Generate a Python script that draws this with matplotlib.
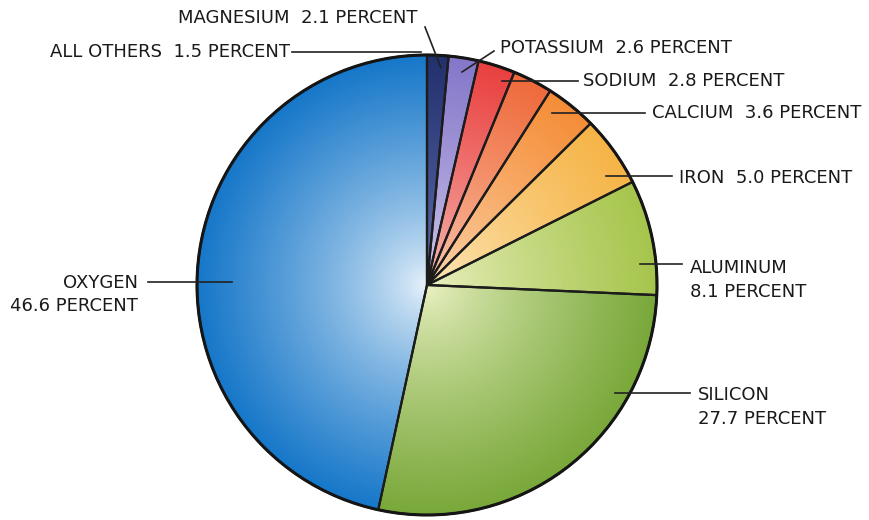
import numpy as np
import matplotlib
matplotlib.use("Agg")
import matplotlib.pyplot as plt
from matplotlib.colors import to_rgb

W, H = 869, 520

elements = ["ALL OTHERS", "MAGNESIUM", "POTASSIUM", "SODIUM", "CALCIUM",
            "IRON", "ALUMINUM", "SILICON", "OXYGEN"]
percent = [1.5, 2.1, 2.6, 2.8, 3.6, 5.0, 8.1, 27.7, 46.6]
edge_colors = ["#23306e", "#8577c9", "#e9403f", "#ef6a3c", "#f58d37",
               "#f6b447", "#a6c54c", "#79a83a", "#1677c9"]
center_colors = ["#6b78b8", "#d6d0f0", "#f8c8c0", "#fbd0b8", "#fcdcb8",
                 "#fdeac0", "#eef3c8", "#eef4c8", "#eef6fc"]

# pie geometry in pixel units (y measured from the top)
cx, cy, R = 427, 285, 230

fig = plt.figure(figsize=(W / 100, H / 100), dpi=100)
ax = fig.add_axes([0, 0, 1, 1])


def Y(py):
    return H - py


wedges, _ = ax.pie(percent, startangle=90, counterclock=False,
                   center=(cx, Y(cy)), radius=R, colors=edge_colors,
                   wedgeprops=dict(linewidth=0))

# radial shading: pale towards the middle, full colour at the rim
n = 400
xs = np.linspace(-1, 1, n)
gx, gy = np.meshgrid(xs, xs)
rr = np.clip(np.hypot(gx, gy), 0, 1)
t = (rr ** 0.75)[..., None]
for w, c0, c1 in zip(wedges, center_colors, edge_colors):
    a = np.array(to_rgb(c0))
    b = np.array(to_rgb(c1))
    img = a * (1 - t) + b * t
    im = ax.imshow(img, extent=[cx - R, cx + R, Y(cy) - R, Y(cy) + R],
                   origin="lower", interpolation="bilinear", zorder=1.5)
    im.set_clip_path(w)

# outlines on top of the shading
outline, _ = ax.pie(percent, startangle=90, counterclock=False,
                    center=(cx, Y(cy)), radius=R,
                    wedgeprops=dict(facecolor="none", edgecolor="#1c1c1c",
                                    linewidth=1.6))
for w in outline:
    w.set_zorder(3)
rim = plt.Circle((cx, Y(cy)), R, fill=False, edgecolor="#151515",
                 linewidth=2.2, zorder=3.2)
ax.add_patch(rim)

txt = dict(fontsize=13, color="#1a1a1a", fontfamily="DejaVu Sans",
           va="center")
lk = dict(color="#222222", linewidth=1.2, zorder=4)


def label(i):
    return f"{elements[i]}  {percent[i]:.1f} PERCENT"


# all others
ax.text(290, Y(52), label(0), ha="right", **txt)
ax.plot([292, 421], [Y(52), Y(52)], **lk)
# magnesium
ax.text(178, Y(18), label(1), ha="left", **txt)
ax.plot([425, 441], [Y(27), Y(68)], **lk)
# potassium
ax.text(500, Y(48), label(2), ha="left", **txt)
ax.plot([494, 462], [Y(51), Y(72)], **lk)
# sodium
ax.text(583, Y(81), label(3), ha="left", **txt)
ax.plot([578, 502], [Y(81), Y(81)], **lk)
# calcium
ax.text(652, Y(113), label(4), ha="left", **txt)
ax.plot([645, 552], [Y(113), Y(113)], **lk)
# iron
ax.text(679, Y(178), label(5), ha="left", **txt)
ax.plot([672, 606], [Y(176), Y(176)], **lk)
# aluminum
ax.text(690, Y(268), elements[6], ha="left", **txt)
ax.text(690, Y(292), f"{percent[6]:.1f} PERCENT", ha="left", **txt)
ax.plot([682, 640], [Y(264), Y(264)], **lk)
# silicon
ax.text(698, Y(395), elements[7], ha="left", **txt)
ax.text(698, Y(419), f"{percent[7]:.1f} PERCENT", ha="left", **txt)
ax.plot([690, 615], [Y(393), Y(393)], **lk)
# oxygen
ax.text(138, Y(283), elements[8], ha="right", **txt)
ax.text(138, Y(306), f"{percent[8]:.1f} PERCENT", ha="right", **txt)
ax.plot([148, 232], [Y(282), Y(282)], **lk)

ax.set_xlim(0, W)
ax.set_ylim(0, H)
ax.set_aspect("auto")
ax.axis("off")

fig.savefig("out.png", dpi=100, facecolor="white")
